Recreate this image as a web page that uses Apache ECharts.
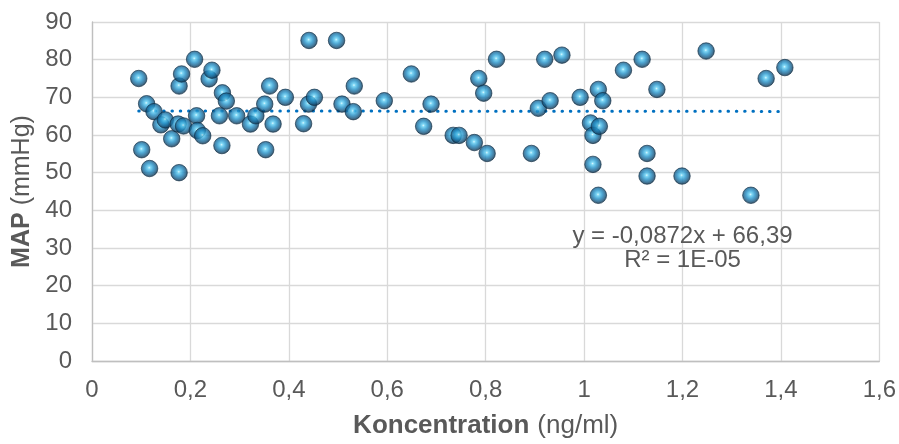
<!DOCTYPE html>
<html>
<head>
<meta charset="utf-8">
<script src="https://cdn.jsdelivr.net/npm/echarts@6/dist/echarts.min.js"></script>
<style>
html,body{margin:0;padding:0;background:#fff;}
#chart{width:899px;height:444px;}
</style>
</head>
<body>
<div id="chart"></div>
<script>
// Concentration (ng/ml) and MAP (mmHg)
var concentration = [
  0.095,0.111,0.126,0.140,0.149,0.101,0.117,0.177,0.162,0.175,0.186,0.177,0.182,0.2085,0.2125,0.214,0.225,0.238,0.2437,0.265,
  0.273,0.259,0.264,0.294,0.322,0.333,0.351,0.361,0.368,0.353,0.393,0.430,0.440,0.452,0.441,0.497,0.508,0.531,0.533,
  0.594,0.649,0.674,0.689,0.734,0.746,0.777,0.803,0.786,0.796,0.822,0.893,0.907,0.931,0.920,0.955,
  0.992,1.013,1.018,1.031,1.029,1.038,1.018,1.029,1.080,1.118,1.148,1.128,1.128,1.199,1.248,1.339,1.370,1.408
];
var map = [
  75,68.3,66.2,62.7,64,56.1,51.1,50,59,62.9,62.4,73,76.2,80.1,65.1,61.2,59.8,74.9,77.2,71.2,
  69,65.1,57.2,65.1,62.9,65.1,68.2,73,62.9,56.1,70,63,68.2,70,85.1,85.1,68.2,66.2,73,
  69.1,76.2,62.3,68.2,59.9,59.9,58,55.1,75,71.1,80.1,55.1,67.1,69.1,80.1,81.2,
  70,63.2,59.9,62.3,72.1,69.1,52.2,44,77.2,80.1,72.1,55.1,49.1,49.1,82.3,44,75,77.9
];
var xTicks = {min:0, max:1.6, interval:0.2};
var yTicks = {min:0, max:90, interval:10};
var trendSlope = -0.0872, trendIntercept = 66.39;
var equationText = 'y = -0,0872x + 66,39';
var r2Text = 'R\u00b2 = 1E-05';

var points = concentration.map(function(c,i){return [c, map[i]];});
var xmin = Math.min.apply(null, concentration), xmax = Math.max.apply(null, concentration);
var trend = [[xmin, trendSlope*xmin+trendIntercept],[xmax, trendSlope*xmax+trendIntercept]];

var FONT = '"Liberation Sans", Arial, sans-serif';
var chart = echarts.init(document.getElementById('chart'));
chart.setOption({
  animation:false,
  backgroundColor:'#fff',
  grid:{left:92,right:19,top:22,bottom:81,containLabel:false},
  xAxis:{
    type:'value', min:xTicks.min, max:xTicks.max, interval:xTicks.interval,
    name:'{b|Koncentration}{s| }{n|(ng/ml)}', nameLocation:'middle', nameGap:52,
    nameTextStyle:{rich:{
      b:{fontFamily:FONT,fontSize:26,fontWeight:'bold',color:'#595959'},
      s:{fontFamily:FONT,fontSize:26,color:'#595959',width:8},
      n:{fontFamily:FONT,fontSize:26,color:'#595959'}
    }},
    axisLine:{show:true,onZero:false,lineStyle:{color:'#bfbfbf',width:1.3}},
    axisTick:{show:false},
    axisLabel:{fontFamily:FONT,fontSize:24,color:'#595959',margin:17,
      formatter:function(v){return String(Math.round(v*10)/10).replace('.',',');}},
    splitLine:{show:true,lineStyle:{color:'#d9d9d9',width:1.3}}
  },
  yAxis:{
    type:'value', min:yTicks.min, max:yTicks.max, interval:yTicks.interval,
    name:'{b|MAP}{s| }{n|(mmHg)}', nameLocation:'middle', nameGap:56,
    nameTextStyle:{rich:{
      b:{fontFamily:FONT,fontSize:25,fontWeight:'bold',color:'#595959'},
      s:{fontFamily:FONT,fontSize:25,color:'#595959',width:7},
      n:{fontFamily:FONT,fontSize:25,color:'#595959'}
    }},
    axisLine:{show:true,lineStyle:{color:'#bfbfbf',width:1.3}},
    axisTick:{show:false},
    axisLabel:{fontFamily:FONT,fontSize:24,color:'#595959',margin:20},
    splitLine:{show:true,lineStyle:{color:'#d9d9d9',width:1.3}}
  },
  series:[
    {
      type:'line', data:trend, symbol:'none', silent:true, z:3,
      lineStyle:{color:'#0070C0',width:3,type:[0.5,7.8],cap:'round'}
    },
    {
      type:'scatter', data:points, symbol:'circle', symbolSize:16.5, z:4,
      itemStyle:{
        color:new echarts.graphic.RadialGradient(0.48,0.45,0.55,[
          {offset:0,color:'#d2f6ff'},
          {offset:0.15,color:'#5fcdf2'},
          {offset:0.45,color:'#2391c8'},
          {offset:0.72,color:'#165f8c'},
          {offset:1,color:'#0a2439'}
        ]),
        borderColor:'#0d2a42',borderWidth:0.8
      }
    }
  ],
  graphic:[
    {type:'text',x:682.5,y:236.5,z:10,style:{text:equationText,fontFamily:FONT,fontSize:24,fill:'#595959',align:'center',verticalAlign:'middle'}},
    {type:'text',x:682.5,y:260.5,z:10,style:{text:r2Text,fontFamily:FONT,fontSize:24,fill:'#595959',align:'center',verticalAlign:'middle'}}
  ]
});
</script>
</body>
</html>
